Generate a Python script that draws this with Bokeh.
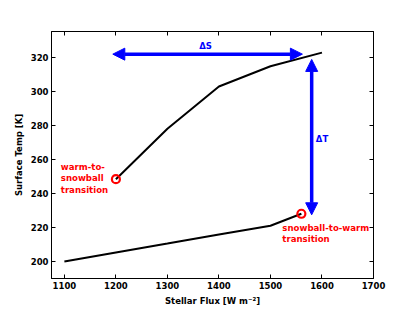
from bokeh.plotting import figure
from bokeh.models import LinearAxis, Arrow, NormalHead, FixedTicker, Range1d
from bokeh.core.properties import value
from bokeh.embed import file_html
from bokeh.resources import INLINE

# Data
warm_flux = [1200, 1300, 1400, 1500, 1600]
warm_temp = [248.3, 277.9, 302.7, 314.6, 322.6]
snow_flux = [1100, 1200, 1300, 1400, 1500, 1560]
snow_temp = [200.0, 205.3, 210.5, 215.8, 221.0, 228.0]

trans_flux = [1200, 1560]
trans_temp = [248.3, 228.0]

x_ticks = [1100, 1200, 1300, 1400, 1500, 1600, 1700]
y_ticks = [200, 220, 240, 260, 280, 300, 320]

ds_x = [1194, 1562]
ds_y = 321.7
dt_x = 1580
dt_y = [227.4, 318.6]

FONT = "DejaVu Sans"

p = figure(width=407, height=308, output_backend="svg", toolbar_location=None,
           x_range=Range1d(1075, 1700), y_range=Range1d(190, 335),
           min_border_left=51, min_border_right=34, min_border_top=31, min_border_bottom=28)
p.background_fill_color = "white"
p.border_fill_color = "white"
p.outline_line_color = "black"
p.outline_line_width = 1
p.xgrid.visible = False
p.ygrid.visible = False

for ax in (p.xaxis[0], p.yaxis[0]):
    ax.major_tick_in = 4
    ax.major_tick_out = 0
    ax.minor_tick_line_color = None
    ax.axis_line_color = "black"
    ax.major_tick_line_color = "black"
    ax.major_label_text_font = FONT
    ax.major_label_text_font_style = "bold"
    ax.major_label_text_font_size = "8.5px"
    ax.major_label_text_color = "black"
    ax.axis_label_text_font = FONT
    ax.axis_label_text_font_style = "bold"
    ax.axis_label_text_font_size = "8.5px"
    ax.axis_label_text_color = "black"
    ax.major_label_standoff = 3
    ax.axis_label_standoff = 4

p.xaxis[0].ticker = FixedTicker(ticks=x_ticks)
p.yaxis[0].ticker = FixedTicker(ticks=y_ticks)
p.xaxis[0].axis_label = "Stellar Flux [W m\u207b\u00b2]"
p.yaxis[0].axis_label = "Surface Temp [K]"

top = LinearAxis(ticker=FixedTicker(ticks=x_ticks),
                 major_label_overrides={t: "" for t in x_ticks},
                 major_tick_in=4, major_tick_out=0, minor_tick_line_color=None,
                 major_label_standoff=0)
right = LinearAxis(ticker=FixedTicker(ticks=y_ticks),
                   major_label_overrides={t: "" for t in y_ticks},
                   major_tick_in=4, major_tick_out=0, minor_tick_line_color=None,
                   major_label_standoff=0)
p.add_layout(top, "above")
p.add_layout(right, "right")

p.line(warm_flux, warm_temp, line_color="black", line_width=2)
p.line(snow_flux, snow_temp, line_color="black", line_width=2)
p.scatter(trans_flux, trans_temp, size=8, fill_color=None, line_color="red", line_width=2.2)

p.add_layout(Arrow(end=NormalHead(size=12, fill_color="blue", line_color="blue"),
                   start=NormalHead(size=12, fill_color="blue", line_color="blue"),
                   x_start=ds_x[1], y_start=ds_y, x_end=ds_x[0], y_end=ds_y,
                   line_color="blue", line_width=3.5))
p.add_layout(Arrow(end=NormalHead(size=12, fill_color="blue", line_color="blue"),
                   start=NormalHead(size=12, fill_color="blue", line_color="blue"),
                   x_start=dt_x, y_start=dt_y[0], x_end=dt_x, y_end=dt_y[1],
                   line_color="blue", line_width=3.5))

p.text(x=[1374], y=[326.5], text=["\u0394S"], text_color="blue", text_font=value(FONT),
       text_font_style="bold", text_font_size="8.5px", text_align="center", text_baseline="middle")
p.text(x=[1588], y=[271.6], text=["\u0394T"], text_color="blue", text_font=value(FONT),
       text_font_style="bold", text_font_size="8.5px", text_align="left", text_baseline="middle")

p.text(x=[1093], y=[258.6], text=["warm-to-\nsnowball\ntransition"], text_color="red",
       text_font=value(FONT), text_font_style="bold", text_font_size="8.6px",
       text_align="left", text_baseline="top", text_line_height=1.15)
p.text(x=[1523], y=[222.8], text=["snowball-to-warm\ntransition"], text_color="red",
       text_font=value(FONT), text_font_style="bold", text_font_size="8.6px",
       text_align="left", text_baseline="top", text_line_height=1.15)

open("out.html", "w").write(file_html(p, INLINE))
